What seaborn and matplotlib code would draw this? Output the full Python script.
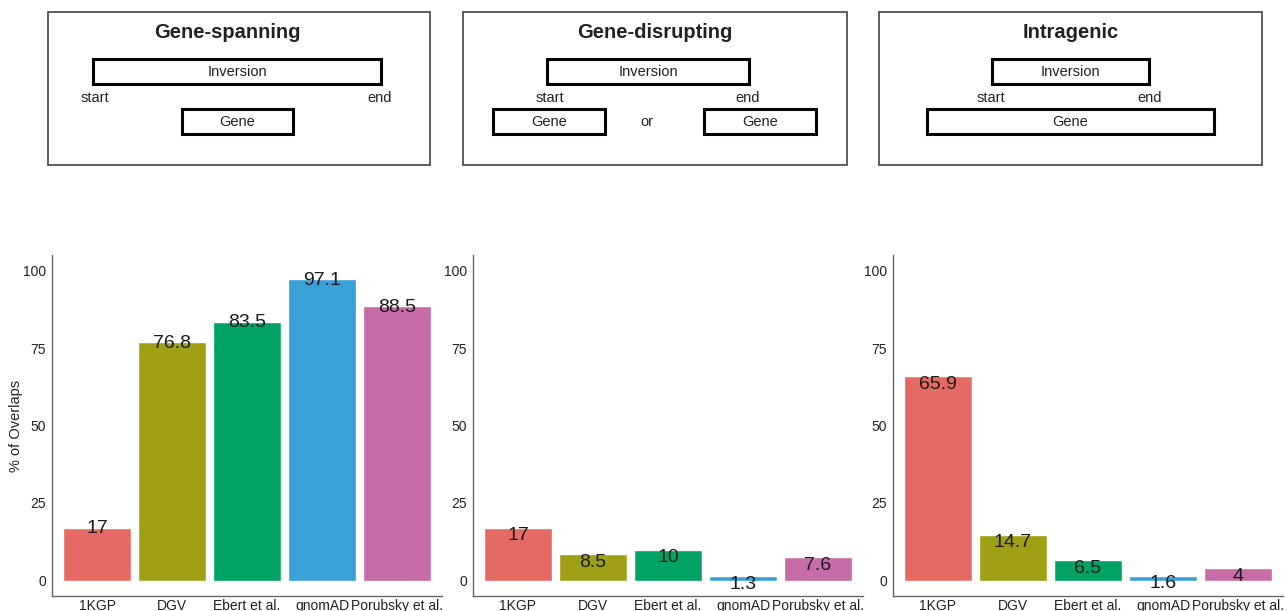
import matplotlib
matplotlib.use("Agg")
import matplotlib.pyplot as plt
import seaborn as sns
import pandas as pd
from matplotlib.patches import Rectangle

# data
datasets = ["1KGP", "DGV", "Ebert et al.", "gnomAD", "Porubsky et al."]
spanning = [17, 76.8, 83.5, 97.1, 88.5]
disrupting = [17, 8.5, 10, 1.3, 7.6]
intragenic = [65.9, 14.7, 6.5, 1.6, 4]
panel_titles = ["Gene-spanning", "Gene-disrupting", "Intragenic"]
colors = ["#E66A64", "#A0A014", "#00A364", "#3AA0D8", "#C66CA6"]

sns.set_style("white")
plt.rcParams["font.family"] = ["Liberation Sans", "DejaVu Sans"]

W, H = 1287, 611
fig = plt.figure(figsize=(W / 100, H / 100), dpi=100)

# schematic panels on top, drawn in pixel coordinates
sk = fig.add_axes([0, 0, 1, 1])
sk.set_xlim(0, W)
sk.set_ylim(H, 0)
sk.axis("off")
sk.patch.set_alpha(0)


def box(x0, x1, y0, y1, lw=2.2, ec="black"):
    sk.add_patch(Rectangle((x0, y0), x1 - x0, y1 - y0, fill=False, lw=lw, ec=ec))


def txt(x, y, s, **kw):
    kw.setdefault("fontsize", 10.5)
    sk.text(x, y, s, ha="center", va="center", color="#222222", **kw)


outer = [(48, 430), (463, 847), (879, 1262)]
title_x = [227, 655, 1070.5]
for (x0, x1), tx, t in zip(outer, title_x, panel_titles):
    box(x0, x1, 12, 165, lw=1.2, ec="#444444")
    txt(tx, 33, t, fontsize=14.5, fontweight="bold")

# gene-spanning
box(93, 381, 59, 84); txt(237, 71.5, "Inversion")
txt(95, 98, "start"); txt(380, 98, "end")
box(182, 293, 109, 134); txt(237.5, 121.5, "Gene")
# gene-disrupting
box(547, 749, 59, 84); txt(648, 71.5, "Inversion")
txt(550, 98, "start"); txt(748, 98, "end")
box(493, 605, 109, 134); txt(549, 121.5, "Gene")
txt(647, 122, "or")
box(704, 816, 109, 134); txt(760, 121.5, "Gene")
# intragenic
box(992, 1149, 59, 84); txt(1070.5, 71.5, "Inversion")
txt(991, 98, "start"); txt(1150, 98, "end")
box(927, 1214, 109, 134); txt(1070.5, 121.5, "Gene")

# bar panels
lefts = [52, 473, 893]
series = [spanning, disrupting, intragenic]
label_shift = [0.3, 2.6, 2.6]
ax_w, top, bottom = 390, 255, 596

for i, (left, vals) in enumerate(zip(lefts, series)):
    ax = fig.add_axes([left / W, (H - bottom) / H, ax_w / W, (bottom - top) / H])
    df = pd.DataFrame({"dataset": datasets, "pct": vals})
    sns.barplot(data=df, x="dataset", y="pct", hue="dataset", palette=colors,
                order=datasets, hue_order=datasets, width=0.9, legend=False,
                saturation=1, ax=ax)
    for j, v in enumerate(vals):
        ax.text(j, v - label_shift[i], f"{v:g}", ha="center", va="center",
                fontsize=14, color="#1a1a1a")
    ax.set_xlim(-0.6, 4.6)
    ax.set_ylim(-5, 105)
    ax.set_yticks([0, 25, 50, 75, 100])
    ax.set_xlabel("")
    ax.set_ylabel("% of Overlaps" if i == 0 else "", fontsize=10.5,
                  color="#222222", labelpad=0)
    ax.tick_params(axis="y", labelsize=10, labelcolor="#222222", length=2.5,
                   width=0.8, pad=2, color="#666666")
    ax.tick_params(axis="x", labelsize=10, labelcolor="#222222", length=1.5,
                   width=0.8, pad=0.5, color="#666666")
    for s in ["top", "right"]:
        ax.spines[s].set_visible(False)
    for s in ["left", "bottom"]:
        ax.spines[s].set_color("#666666")
        ax.spines[s].set_linewidth(1.0)
    ax.patch.set_alpha(0)

fig.savefig("out.png", dpi=100)
